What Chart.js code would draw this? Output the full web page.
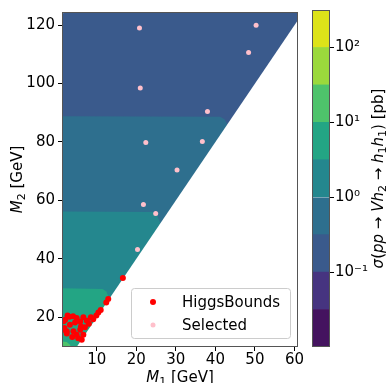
<!DOCTYPE html>
<html>
<head>
<meta charset="utf-8">
<script src="https://cdn.jsdelivr.net/npm/chart.js@4.4.1/dist/chart.umd.min.js"></script>
<style>
    html, body { margin: 0; padding: 0; background: #fff; }
    #wrap { position: relative; width: 389px; height: 383px; }
    #wrap canvas { position: absolute; left: 0; top: 0; }
</style>
</head>
<body>
<div id="wrap">
    <canvas id="chart-contour" width="389" height="383"></canvas>
    <canvas id="chart-colorbar" width="389" height="383"></canvas>
</div>
<script>
const FONT = '"DejaVu Sans", sans-serif';

// axes
const xMin = 1.2, xMax = 60.9;
const yMin = 9.8, yMax = 124.5;
const xTicks = [10, 20, 30, 40, 50, 60];
const yTicks = [20, 40, 60, 80, 100, 120];

// colorbar: log10(sigma / pb)
const cbLevels = [-2, -1.5, -1, -0.5, 0, 0.5, 1, 1.5, 2, 2.5];
const cbTicks = [-1, 0, 1, 2];
const cbColors = ['#44135f', '#463480', '#3a5a8c', '#2e6f8e', '#24878e', '#23a584', '#4ec36b', '#9bd93c', '#dde319'];

// upper edge of each contour band (filled down to the axis)
const band1M1 = [1.2, 2.2, 61.5];
const band1M2 = [123.9, 124.5, 124.5];
const band2M1 = [1.2, 41.2, 42.3, 43.2];
const band2M2 = [88.8, 88.6, 87.8, 85.6];
const band3M1 = [1.2, 24.0, 25.2, 26.2];
const band3M2 = [56.2, 56.0, 55.0, 51.8];
const band4M1 = [1.2, 11.5, 12.4, 13.2];
const band4M2 = [29.9, 29.7, 28.8, 26.2];
const band5M1 = [1.2, 2.4, 3.2, 3.5];
const band5M2 = [11.7, 11.5, 10.6, 9.8];

// kinematic edge M2 = 2 M1, nothing below it
const edgeM1 = [4.9, 62.0];
const edgeM2 = [9.8, 124.0];

// points
const hbM1 = [16.6, 12.9, 12.4, 10.4, 9.9, 9.1, 8.5, 7.5, 6.6, 5.8, 4.9, 4.5, 3.1, 2.0, 3.2, 1.8, 1.5,
    2.4, 4.1, 5.8, 4.9, 6.6, 6.2, 2.4, 8.0, 7.0, 3.8, 5.3, 1.6, 2.6, 4.0, 6.0, 11.0];
const hbM2 = [33.4, 26.2, 25.0, 21.6, 20.6, 19.3, 20.0, 18.8, 20.0, 18.5, 19.7, 18.2, 20.2, 19.1, 17.4, 16.3, 15.7,
    15.2, 15.2, 15.7, 14.0, 14.0, 12.3, 14.4, 17.8, 16.6, 13.2, 12.8, 18.6, 20.6, 20.3, 16.8, 22.5];
const selM1 = [20.8, 50.3, 48.4, 21.0, 38.0, 22.4, 36.7, 30.3, 21.8, 24.9, 20.3];
const selM2 = [119.0, 120.0, 110.6, 98.5, 90.4, 79.8, 80.2, 70.4, 58.6, 55.5, 43.2];

function toPoints(xs, ys) {
    return xs.map((x, i) => ({ x, y: ys[i] }));
}

function supNum(v) {
    const map = { '-': '⁻', '0': '⁰', '1': '¹', '2': '²', '3': '³' };
    return String(v).split('').map(c => map[c] || c).join('');
}

// draws mathtext-like runs centred on the current origin
function drawRuns(ctx, runs, size) {
    const fontFor = st => st === 'i' ? `italic ${size}px ${FONT}`
        : st === 'sub' ? `${Math.round(size * 0.7)}px ${FONT}` : `${size}px ${FONT}`;
    let total = 0;
    runs.forEach(([t, st]) => { ctx.font = fontFor(st); total += ctx.measureText(t).width; });
    let x = -total / 2;
    ctx.textAlign = 'left';
    ctx.textBaseline = 'alphabetic';
    runs.forEach(([t, st]) => {
        ctx.font = fontFor(st);
        ctx.fillText(t, x, st === 'sub' ? size * 0.22 : 0);
        x += ctx.measureText(t).width;
    });
}

const bands = [
    { m1: band1M1, m2: band1M2, color: cbColors[2] },
    { m1: band2M1, m2: band2M2, color: cbColors[3] },
    { m1: band3M1, m2: band3M2, color: cbColors[4] },
    { m1: band4M1, m2: band4M2, color: cbColors[5] },
    { m1: band5M1, m2: band5M2, color: cbColors[6] }
];

const contourDatasets = bands.map((b, i) => ({
    type: 'line',
    data: toPoints(b.m1, b.m2),
    backgroundColor: b.color,
    borderColor: 'rgba(0,0,0,0)',
    borderWidth: 0,
    pointRadius: 0,
    fill: 'start',
    tension: 0,
    order: 20 - i
}));

const mainPlugin = {
    id: 'frameAndLegend',
    afterDatasetsDraw(chart) {
        const { ctx, chartArea: a } = chart;
        ctx.save();
        ctx.strokeStyle = '#555';
        ctx.lineWidth = 1;
        ctx.strokeRect(a.left + 0.5, a.top + 0.5, a.right - a.left - 1, a.bottom - a.top - 1);

        // legend, lower right
        const items = chart.data.datasets.filter(d => d.label);
        const w = 159, h = 50;
        const lx = a.right - 8 - w, ly = a.bottom - 9 - h;
        ctx.fillStyle = 'rgba(255,255,255,0.8)';
        ctx.strokeStyle = '#cccccc';
        ctx.beginPath();
        ctx.roundRect(lx + 0.5, ly + 0.5, w, h, 3);
        ctx.fill();
        ctx.stroke();
        ctx.font = `15px ${FONT}`;
        ctx.textBaseline = 'middle';
        ctx.textAlign = 'left';
        items.forEach((d, i) => {
            const cy = ly + 14 + i * 23;
            ctx.fillStyle = d.backgroundColor;
            ctx.beginPath();
            ctx.arc(lx + 22, cy, d.pointRadius, 0, Math.PI * 2);
            ctx.fill();
            ctx.fillStyle = '#000';
            ctx.fillText(d.label, lx + 51, cy + 1);
        });

        // axis titles
        ctx.fillStyle = '#000';
        ctx.save();
        ctx.translate((a.left + a.right) / 2, 382);
        drawRuns(ctx, [['M', 'i'], ['1', 'sub'], [' [GeV]', '']], 15);
        ctx.restore();
        ctx.save();
        ctx.translate(22, (a.top + a.bottom) / 2);
        ctx.rotate(-Math.PI / 2);
        drawRuns(ctx, [['M', 'i'], ['2', 'sub'], [' [GeV]', '']], 15);
        ctx.restore();
        ctx.restore();
    }
};

new Chart(document.getElementById('chart-contour'), {
    type: 'scatter',
    data: {
        datasets: [
            { label: 'HiggsBounds', data: toPoints(hbM1, hbM2), backgroundColor: '#ff0000', borderWidth: 0, pointRadius: 3, order: 1, clip: 0 },
            { label: 'Selected', data: toPoints(selM1, selM2), backgroundColor: '#ffc0cb', borderWidth: 0, pointRadius: 2.5, order: 0, clip: 0 },
            { type: 'line', data: toPoints(edgeM1, edgeM2), backgroundColor: '#ffffff', borderColor: 'rgba(0,0,0,0)',
              borderWidth: 0, pointRadius: 0, fill: 'start', order: 2 },
            ...contourDatasets
        ]
    },
    options: {
        responsive: false,
        animation: false,
        devicePixelRatio: 1,
        layout: { padding: { left: 0, top: 8, right: 91, bottom: 0 } },
        plugins: { legend: { display: false }, tooltip: { enabled: false } },
        scales: {
            x: {
                type: 'linear', min: xMin, max: xMax,
                afterBuildTicks: s => { s.ticks = xTicks.map(v => ({ value: v })); },
                afterFit: s => { s.height = 36; },
                grid: { display: true, drawOnChartArea: false, drawTicks: true, tickLength: 4, color: '#000' },
                border: { display: false },
                ticks: { font: { family: FONT, size: 15 }, color: '#000', padding: 0, maxRotation: 0 }
            },
            y: {
                type: 'linear', min: yMin, max: yMax,
                afterBuildTicks: s => { s.ticks = yTicks.map(v => ({ value: v })); },
                afterFit: s => { s.width = 62; },
                grid: { display: true, drawOnChartArea: false, drawTicks: true, tickLength: 4, color: '#000' },
                border: { display: false },
                ticks: { font: { family: FONT, size: 15 }, color: '#000', padding: 3 }
            }
        }
    },
    plugins: [mainPlugin]
});

const cbPlugin = {
    id: 'cbFrame',
    afterDatasetsDraw(chart) {
        const { ctx, chartArea: a } = chart;
        ctx.save();
        ctx.strokeStyle = '#555';
        ctx.lineWidth = 1;
        ctx.strokeRect(a.left + 0.5, a.top + 0.5, a.right - a.left - 1, a.bottom - a.top - 1);
        ctx.fillStyle = '#000';
        ctx.translate(383, (a.top + a.bottom) / 2);
        ctx.rotate(-Math.PI / 2);
        drawRuns(ctx, [['σ', 'i'], ['(', ''], ['pp', 'i'], [' → ', ''], ['Vh', 'i'], ['2', 'sub'], [' → ', ''],
            ['h', 'i'], ['1', 'sub'], ['h', 'i'], ['1', 'sub'], [') [pb]', '']], 15);
        ctx.restore();
    }
};

new Chart(document.getElementById('chart-colorbar'), {
    type: 'bar',
    data: {
        labels: [''],
        datasets: cbColors.map((c, i) => ({
            data: [[cbLevels[i], cbLevels[i + 1]]],
            backgroundColor: c,
            borderWidth: 0,
            grouped: false,
            barPercentage: 1,
            categoryPercentage: 1
        }))
    },
    options: {
        responsive: false,
        animation: false,
        devicePixelRatio: 1,
        layout: { padding: { left: 312, top: 8, right: 0, bottom: 36 } },
        plugins: { legend: { display: false }, tooltip: { enabled: false } },
        scales: {
            x: { display: false },
            y: {
                position: 'right',
                min: cbLevels[0], max: cbLevels[cbLevels.length - 1],
                afterBuildTicks: s => { s.ticks = cbTicks.map(v => ({ value: v })); },
                afterFit: s => { s.width = 59; },
                grid: { display: true, drawOnChartArea: false, drawTicks: true, tickLength: 4, color: '#000' },
                border: { display: false },
                ticks: { font: { family: FONT, size: 15 }, color: '#000', padding: 1, callback: v => '10' + supNum(v) }
            }
        }
    },
    plugins: [cbPlugin]
});
</script>
</body>
</html>
